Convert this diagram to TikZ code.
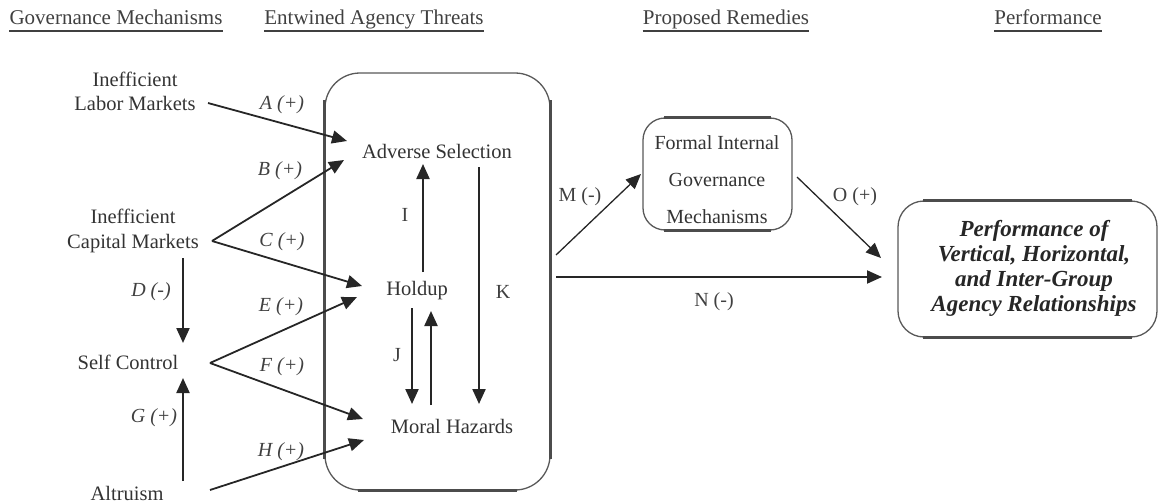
\documentclass[tikz,border=0pt]{standalone}
\usepackage{fontspec}
\setmainfont{Liberation Serif}
\usetikzlibrary{arrows.meta,calc}

\begin{document}
\begin{tikzpicture}[x=1pt,y=-1pt,
  head/.style={font=\fontsize{21}{24}\selectfont, text=black!75, inner sep=0pt, anchor=base},
  uline/.style={draw=black!75, line width=1.8pt},
  txt/.style={font=\fontsize{20.5}{22}\selectfont, text=black!80, inner sep=0pt, align=center},
  lbl/.style={font=\fontsize{20}{22}\selectfont\itshape, text=black!75, inner sep=0pt},
  ulbl/.style={font=\fontsize{20}{22}\selectfont, text=black!75, inner sep=0pt},
  tip/.style={-{Triangle[length=15pt,width=13pt]}},
  arr/.style={tip, line width=1.8pt, draw=black!85},
  vert/.style={tip, line width=2.2pt, draw=black!85},
  frame/.style={draw=black!65, line width=1.3pt, fill=white},
  edge/.style={draw=black!70, line width=3pt}
]
\useasboundingbox (0,0) rectangle (1166,503);

% column headings
\node[head] (h1) at (116,25) {Governance Mechanisms};
\node[head] (h2) at (374,25) {Entwined Agency Threats};
\node[head] (h3) at (726,25) {Proposed Remedies};
\node[head] (h4) at (1048,25) {Performance};
\foreach \h in {h1,h2,h3,h4}
  \draw[uline] ($(\h.base west)+(0,6)$) -- ($(\h.base east)+(0,6)$);

% the box of entwined threats
\node[frame, rounded corners=35pt, minimum width=225pt, minimum height=417pt] (threats) at (437.5,281.5) {};
\draw[edge] ($(threats.north west)+(0,28)$) -- ($(threats.south west)+(0,-32)$);
\draw[edge] ($(threats.north east)+(0,28)$) -- ($(threats.south east)+(0,-32)$);
\draw[edge] ($(threats.south west)+(34,0)$) -- ($(threats.south east)+(-34,0)$);

% formal internal governance box
\node[frame, rounded corners=22pt, minimum width=149pt, minimum height=112pt] (formal) at (717.5,174) {};
\draw[edge] ($(formal.north west)+(22,0)$) -- ($(formal.north east)+(-22,0)$);
\draw[edge] ($(formal.south west)+(22,0)$) -- ($(formal.south east)+(-22,0)$);
\node[txt, font=\fontsize{20}{37}\selectfont] (formaltxt) at (717,180) {Formal Internal\\Governance\\Mechanisms};

% performance box
\node[frame, rounded corners=26pt, minimum width=259pt, minimum height=136pt] (perf) at (1027.5,269) {};
\draw[edge] ($(perf.north west)+(26,0)$) -- ($(perf.north east)+(-26,0)$);
\draw[edge] ($(perf.south west)+(26,0)$) -- ($(perf.south east)+(-26,0)$);
\node[txt, font=\fontsize{23}{25}\selectfont\bfseries\itshape, text=black!85] (perftxt) at (1034,268)
  {Performance of\\Vertical, Horizontal,\\and Inter-Group\\Agency Relationships};

% governance mechanisms
\node[txt, font=\fontsize{20.5}{24}\selectfont] (ilm) at (135,91) {Inefficient\\Labor Markets};
\node[txt, font=\fontsize{20.5}{25}\selectfont] (icm) at (133,231) {Inefficient\\Capital Markets};
\node[txt] (sc) at (128,362) {Self Control};
\node[txt] (alt) at (127,493) {Altruism};

% agency threats
\node[txt] (as) at (437,151) {Adverse Selection};
\node[txt] (hu) at (417,291) {Holdup};
\node[txt] (mh) at (452,426) {Moral Hazards};

% end points of the incoming links
\coordinate (ilmR) at (208,103);
\coordinate (icmR) at (212,241);
\coordinate (icmB) at (183,258);
\coordinate (scT)  at (183,343);
\coordinate (scB)  at (183,378);
\coordinate (scR)  at (210,363);
\coordinate (altT) at (183,481);
\coordinate (altR) at (210,490);
\coordinate (asA)  at (347,141);
\coordinate (asB)  at (344,160);
\coordinate (huC)  at (362,286);
\coordinate (huE)  at (357,297);
\coordinate (mhF)  at (363,419);
\coordinate (mhH)  at (364,440);

\draw[arr] (ilmR) -- (asA);
\draw[arr] (icmR) -- (asB);
\draw[arr] (icmR) -- (huC);
\draw[vert] (icmB) -- (scT);
\draw[arr] (scR) -- (huE);
\draw[arr] (scR) -- (mhF);
\draw[vert] (altT) -- (scB);
\draw[arr] (altR) -- (mhH);

% links among the threats
\coordinate (iLow) at (423,272);
\coordinate (iTop) at (423,164);
\coordinate (kTop) at (479,167);
\coordinate (kLow) at (479,404);
\coordinate (jDa) at (412,308);
\coordinate (jDb) at (412,404);
\coordinate (jUa) at (431,405);
\coordinate (jUb) at (431,311);
\draw[vert] (iLow) -- (iTop);
\draw[vert] (kTop) -- (kLow);
\draw[vert] (jDa) -- (jDb);
\draw[vert] (jUa) -- (jUb);

% links to remedies and performance
\coordinate (thM) at (556,255);
\coordinate (thN) at (556,277);
\coordinate (fmIn) at (641,174);
\coordinate (fmOut) at (797,177);
\coordinate (pfO) at (881,258);
\coordinate (pfN) at (882,277);
\draw[arr, line width=1.3pt] (thM) -- (fmIn);
\draw[arr, line width=2pt] (thN) -- (pfN);
\draw[arr, line width=1.3pt] (fmOut) -- (pfO);

% path labels
\node[lbl] (lA) at (282,105) {A (+)};
\node[lbl] (lB) at (280,171) {B (+)};
\node[lbl] (lC) at (282,242) {C (+)};
\node[lbl] (lD) at (151,292) {D (-)};
\node[lbl] (lE) at (281,307) {E (+)};
\node[lbl] (lF) at (282,367) {F (+)};
\node[lbl] (lG) at (154,418) {G (+)};
\node[lbl] (lH) at (281,452) {H (+)};
\node[ulbl] (lI) at (405,215) {I};
\node[ulbl] (lJ) at (397,355) {J};
\node[ulbl] (lK) at (503,292) {K};
\node[ulbl] (lM) at (580,197) {M (-)};
\node[ulbl] (lN) at (714,302) {N (-)};
\node[ulbl] (lO) at (855,197) {O (+)};
\end{tikzpicture}
\end{document}
